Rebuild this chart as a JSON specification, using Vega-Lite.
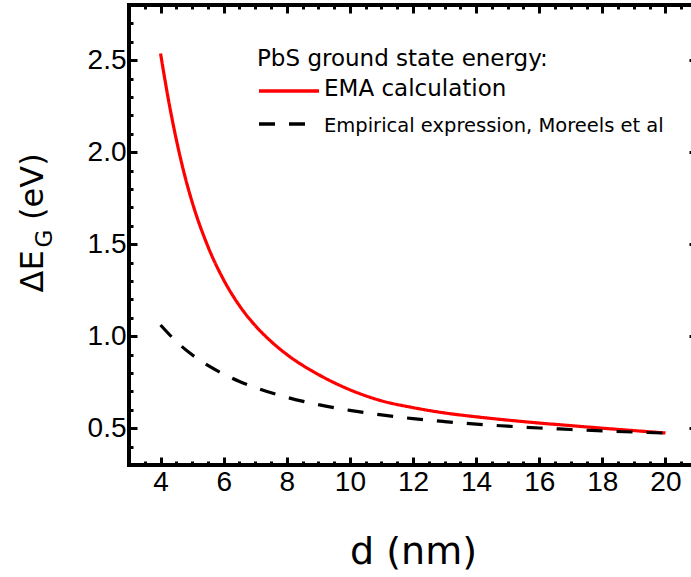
{
  "$schema": "https://vega.github.io/schema/vega-lite/v6.json",
  "width": 568,
  "height": 460,
  "autosize": {"type": "none"},
  "padding": {"left": 129, "top": 5, "right": 0, "bottom": 112},
  "background": "white",
  "config": {
    "view": {"stroke": "black", "strokeWidth": 4},
    "axis": {"domain": false, "grid": false, "tickColor": "black", "tickWidth": 3, "labelFont": "Liberation Sans", "labelFontSize": 28, "labelColor": "black", "titleColor": "black", "titleFontWeight": "normal"},
    "legend": {
      "titleFont": "DejaVu Sans",
      "titleFontSize": 23,
      "titleFontWeight": "normal",
      "titleColor": "black",
      "titleLimit": 600,
      "labelFont": "DejaVu Sans",
      "labelFontSize": 23,
      "labelColor": "black",
      "labelLimit": 600
    }
  },
  "data": {
    "values": [
      {"d": 4, "E": 2.536, "s": "EMA calculation"},
      {"d": 4.25, "E": 2.285, "s": "EMA calculation"},
      {"d": 4.5, "E": 2.068, "s": "EMA calculation"},
      {"d": 4.75, "E": 1.884, "s": "EMA calculation"},
      {"d": 5, "E": 1.730, "s": "EMA calculation"},
      {"d": 5.5, "E": 1.488, "s": "EMA calculation"},
      {"d": 6, "E": 1.306, "s": "EMA calculation"},
      {"d": 6.5, "E": 1.166, "s": "EMA calculation"},
      {"d": 7, "E": 1.058, "s": "EMA calculation"},
      {"d": 7.5, "E": 0.972, "s": "EMA calculation"},
      {"d": 8, "E": 0.901, "s": "EMA calculation"},
      {"d": 9, "E": 0.792, "s": "EMA calculation"},
      {"d": 10, "E": 0.709, "s": "EMA calculation"},
      {"d": 11, "E": 0.649, "s": "EMA calculation"},
      {"d": 12, "E": 0.612, "s": "EMA calculation"},
      {"d": 13, "E": 0.583, "s": "EMA calculation"},
      {"d": 14, "E": 0.562, "s": "EMA calculation"},
      {"d": 15, "E": 0.544, "s": "EMA calculation"},
      {"d": 16, "E": 0.528, "s": "EMA calculation"},
      {"d": 17, "E": 0.514, "s": "EMA calculation"},
      {"d": 18, "E": 0.500, "s": "EMA calculation"},
      {"d": 19, "E": 0.487, "s": "EMA calculation"},
      {"d": 20, "E": 0.474, "s": "EMA calculation"},
      {"d": 4, "E": 1.061, "s": "Empirical expression, Moreels et al"},
      {"d": 4.5, "E": 0.971, "s": "Empirical expression, Moreels et al"},
      {"d": 5, "E": 0.899, "s": "Empirical expression, Moreels et al"},
      {"d": 5.5, "E": 0.841, "s": "Empirical expression, Moreels et al"},
      {"d": 6, "E": 0.794, "s": "Empirical expression, Moreels et al"},
      {"d": 6.5, "E": 0.754, "s": "Empirical expression, Moreels et al"},
      {"d": 7, "E": 0.721, "s": "Empirical expression, Moreels et al"},
      {"d": 8, "E": 0.668, "s": "Empirical expression, Moreels et al"},
      {"d": 9, "E": 0.628, "s": "Empirical expression, Moreels et al"},
      {"d": 10, "E": 0.597, "s": "Empirical expression, Moreels et al"},
      {"d": 11, "E": 0.572, "s": "Empirical expression, Moreels et al"},
      {"d": 12, "E": 0.552, "s": "Empirical expression, Moreels et al"},
      {"d": 13, "E": 0.536, "s": "Empirical expression, Moreels et al"},
      {"d": 14, "E": 0.522, "s": "Empirical expression, Moreels et al"},
      {"d": 15, "E": 0.511, "s": "Empirical expression, Moreels et al"},
      {"d": 16, "E": 0.501, "s": "Empirical expression, Moreels et al"},
      {"d": 17, "E": 0.493, "s": "Empirical expression, Moreels et al"},
      {"d": 18, "E": 0.485, "s": "Empirical expression, Moreels et al"},
      {"d": 19, "E": 0.479, "s": "Empirical expression, Moreels et al"},
      {"d": 20, "E": 0.4735, "s": "Empirical expression, Moreels et al"}
    ]
  },
  "resolve": {"axis": {"x": "independent", "y": "independent"}},
  "layer": [
    {
      "mark": {"type": "line", "interpolate": "monotone", "strokeWidth": 3.2},
      "encoding": {
        "x": {
          "field": "d", "type": "quantitative",
          "scale": {"domain": [3, 21], "nice": false, "zero": false},
          "axis": {
            "orient": "bottom",
            "values": [3, 3.5, 4, 4.5, 5, 5.5, 6, 6.5, 7, 7.5, 8, 8.5, 9, 9.5, 10, 10.5, 11, 11.5, 12, 12.5, 13, 13.5, 14, 14.5, 15, 15.5, 16, 16.5, 17, 17.5, 18, 18.5, 19, 19.5, 20, 20.5, 21],
            "format": ".0f",
            "labelExpr": "datum.value % 2 == 0 ? datum.label : ''",
            "tickSize": {"condition": {"test": "datum.value % 2 == 0", "value": -8}, "value": -4},
            "labelPadding": 11,
            "labelFlush": false,
            "labelOverlap": false,
            "title": "d (nm)",
            "titleFont": "DejaVu Sans",
            "titleFontSize": 38,
            "titleX": 284,
            "titleY": 98,
            "titleBaseline": "alphabetic",
            "titleAlign": "center"
          }
        },
        "y": {
          "field": "E", "type": "quantitative",
          "scale": {"domain": [0.3, 2.8], "nice": false, "zero": false},
          "axis": {
            "orient": "left",
            "values": [0.3, 0.4, 0.5, 0.6, 0.7, 0.8, 0.9, 1.0, 1.1, 1.2, 1.3, 1.4, 1.5, 1.6, 1.7, 1.8, 1.9, 2.0, 2.1, 2.2, 2.3, 2.4, 2.5, 2.6, 2.7, 2.8],
            "format": ".1f",
            "labelExpr": "abs(datum.value * 2 - round(datum.value * 2)) < 0.001 ? datum.label : ''",
            "tickSize": {"condition": {"test": "abs(datum.value * 2 - round(datum.value * 2)) < 0.001", "value": -8}, "value": -4},
            "labelPadding": 11,
            "labelFlush": false,
            "labelOverlap": false,
            "title": "ΔE\u00a0\u00a0\u00a0(eV)",
            "titleFont": "DejaVu Sans",
            "titleFontSize": 32,
            "titleAngle": 270,
            "titleAlign": "left",
            "titleBaseline": "alphabetic",
            "titleX": -87,
            "titleY": 287
          }
        },
        "color": {
          "field": "s", "type": "nominal",
          "scale": {"domain": ["EMA calculation", "Empirical expression, Moreels et al"], "range": ["#ff0000", "#000000"]},
          "legend": {
            "title": "PbS ground state energy:",
            "orient": "none",
            "legendX": 128,
            "legendY": 43,
            "titlePadding": -14,
            "labelOffset": 3,
            "symbolType": "stroke",
            "symbolSize": 3600,
            "symbolStrokeWidth": 3.5,
            "rowPadding": 0,
            "encode": {
              "symbols": {"update": {"y": {"signal": "34 - 11 * datum.index"}}},
              "labels": {"update": {"dy": {"signal": "-7 * datum.index"}, "fontSize": {"signal": "datum.label == 'EMA calculation' ? 23 : 19.5"}}}
            }
          }
        },
        "strokeDash": {
          "field": "s", "type": "nominal",
          "scale": {"domain": ["EMA calculation", "Empirical expression, Moreels et al"], "range": [[1, 0], [16, 14]]},
          "legend": {
            "title": "PbS ground state energy:",
            "orient": "none",
            "legendX": 128,
            "legendY": 43,
            "titlePadding": -14,
            "labelOffset": 3,
            "symbolType": "stroke",
            "symbolSize": 3600,
            "symbolStrokeWidth": 3.5,
            "rowPadding": 0,
            "encode": {
              "symbols": {"update": {"y": {"signal": "34 - 11 * datum.index"}}},
              "labels": {"update": {"dy": {"signal": "-7 * datum.index"}, "fontSize": {"signal": "datum.label == 'EMA calculation' ? 23 : 19.5"}}}
            }
          }
        }
      }
    },
    {
      "mark": {"type": "point", "opacity": 0},
      "encoding": {
        "x": {
          "field": "d", "type": "quantitative",
          "axis": {
            "orient": "top",
            "values": [3, 3.5, 4, 4.5, 5, 5.5, 6, 6.5, 7, 7.5, 8, 8.5, 9, 9.5, 10, 10.5, 11, 11.5, 12, 12.5, 13, 13.5, 14, 14.5, 15, 15.5, 16, 16.5, 17, 17.5, 18, 18.5, 19, 19.5, 20, 20.5, 21],
            "labels": false,
            "title": null,
            "tickSize": {"condition": {"test": "datum.value % 2 == 0", "value": -8}, "value": -4}
          }
        },
        "y": {
          "field": "E", "type": "quantitative",
          "axis": {
            "orient": "right",
            "values": [0.3, 0.4, 0.5, 0.6, 0.7, 0.8, 0.9, 1.0, 1.1, 1.2, 1.3, 1.4, 1.5, 1.6, 1.7, 1.8, 1.9, 2.0, 2.1, 2.2, 2.3, 2.4, 2.5, 2.6, 2.7, 2.8],
            "labels": false,
            "title": null,
            "tickSize": {"condition": {"test": "abs(datum.value * 2 - round(datum.value * 2)) < 0.001", "value": -8}, "value": -4}
          }
        }
      }
    },
    {
      "mark": {"type": "point", "opacity": 0},
      "encoding": {
        "x": {"field": "d", "type": "quantitative", "axis": null},
        "y": {
          "field": "E", "type": "quantitative",
          "axis": {
            "orient": "left",
            "labels": false,
            "ticks": false,
            "title": "G",
            "titleFont": "DejaVu Sans",
            "titleFontSize": 23,
            "titleAngle": 270,
            "titleAlign": "center",
            "titleBaseline": "alphabetic",
            "titleX": -78,
            "titleY": 233
          }
        }
      }
    }
  ]
}
